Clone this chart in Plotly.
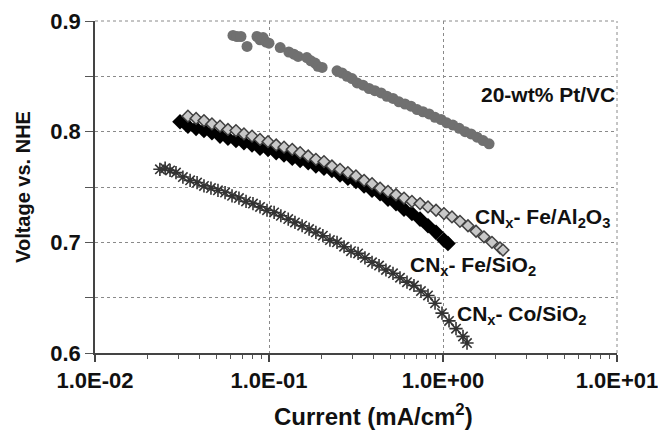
import numpy as np
import plotly.graph_objects as go

# Polarisation data: current density (mA/cm^2) vs. potential (V vs. NHE)
pt_current = [0.0621, 0.0655, 0.069, 0.0748, 0.0853, 0.0888, 0.0925, 0.0962, 0.100, 0.116,
              0.130, 0.139, 0.147, 0.165, 0.174, 0.184, 0.191, 0.202, 0.246, 0.263,
              0.281, 0.300, 0.321, 0.347, 0.376, 0.406, 0.441, 0.476, 0.516, 0.558,
              0.605, 0.655, 0.710, 0.767, 0.832, 0.900, 0.975, 1.05, 1.14, 1.24,
              1.34, 1.45, 1.57, 1.70, 1.84]
pt_voltage = [0.887, 0.886, 0.886, 0.877, 0.886, 0.883, 0.885, 0.881, 0.880, 0.876,
              0.872, 0.870, 0.868, 0.867, 0.864, 0.862, 0.859, 0.858, 0.855, 0.853,
              0.850, 0.848, 0.844, 0.842, 0.839, 0.837, 0.835, 0.832, 0.830, 0.827,
              0.825, 0.823, 0.820, 0.818, 0.816, 0.813, 0.811, 0.808, 0.806, 0.803,
              0.800, 0.798, 0.795, 0.792, 0.789]

fe_al_current = [0.0342, 0.0381, 0.0423, 0.0470, 0.0523, 0.0581, 0.0646, 0.0718, 0.0799, 0.0888,
                 0.0987, 0.110, 0.122, 0.136, 0.151, 0.168, 0.186, 0.207, 0.230, 0.256,
                 0.284, 0.316, 0.352, 0.391, 0.435, 0.483, 0.537, 0.597, 0.663, 0.738,
                 0.820, 0.912, 1.013, 1.126, 1.252, 1.392, 1.548, 1.720, 1.912, 2.126,
                 2.212]
fe_al_voltage = [0.814, 0.812, 0.810, 0.807, 0.805, 0.802, 0.801, 0.798, 0.796, 0.793,
                 0.791, 0.788, 0.786, 0.784, 0.781, 0.778, 0.775, 0.773, 0.769, 0.766,
                 0.763, 0.760, 0.756, 0.753, 0.749, 0.746, 0.743, 0.740, 0.737, 0.735,
                 0.732, 0.729, 0.726, 0.723, 0.719, 0.715, 0.710, 0.705, 0.700, 0.695,
                 0.693]

fe_si_current = [0.0308, 0.0342, 0.0381, 0.0423, 0.0470, 0.0523, 0.0581, 0.0646, 0.0718, 0.0799,
                 0.0888, 0.0987, 0.110, 0.122, 0.136, 0.151, 0.168, 0.186, 0.207, 0.230,
                 0.256, 0.284, 0.316, 0.352, 0.391, 0.435, 0.483, 0.537, 0.597, 0.663,
                 0.738, 0.820, 0.912, 1.013, 1.068]
fe_si_voltage = [0.809, 0.805, 0.803, 0.801, 0.799, 0.796, 0.794, 0.792, 0.790, 0.788,
                 0.785, 0.784, 0.781, 0.779, 0.776, 0.774, 0.772, 0.769, 0.767, 0.765,
                 0.761, 0.758, 0.755, 0.751, 0.747, 0.744, 0.739, 0.735, 0.730, 0.726,
                 0.721, 0.715, 0.709, 0.702, 0.699]

co_si_current = [0.0236, 0.0253, 0.0270, 0.0292, 0.0320, 0.0352, 0.0386, 0.0423, 0.0464, 0.0509,
                 0.0559, 0.0613, 0.0672, 0.0738, 0.0809, 0.0888, 0.0974, 0.107, 0.117, 0.129,
                 0.141, 0.155, 0.170, 0.186, 0.204, 0.224, 0.246, 0.270, 0.296, 0.325,
                 0.356, 0.391, 0.429, 0.470, 0.516, 0.566, 0.621, 0.681, 0.747, 0.820,
                 0.900, 0.987, 1.083, 1.188, 1.303, 1.374]
co_si_voltage = [0.766, 0.767, 0.765, 0.763, 0.759, 0.756, 0.754, 0.751, 0.749, 0.747,
                 0.745, 0.742, 0.740, 0.737, 0.735, 0.732, 0.729, 0.727, 0.724, 0.721,
                 0.718, 0.715, 0.712, 0.709, 0.706, 0.702, 0.700, 0.696, 0.692, 0.690,
                 0.686, 0.682, 0.679, 0.675, 0.672, 0.668, 0.664, 0.661, 0.656, 0.652,
                 0.645, 0.636, 0.629, 0.622, 0.615, 0.609]

x_tick_vals = [0.01, 0.1, 1, 10]
x_tick_text = ["1.0E-02", "1.0E-01", "1.0E+00", "1.0E+01"]
x_minor_vals = [a * b for b in (0.01, 0.1, 1) for a in range(2, 10)]
y_tick_vals = [0.6, 0.7, 0.8, 0.9]
y_tick_text = ["0.6", "0.7", "0.8", "0.9"]
y_minor_vals = [0.65, 0.75, 0.85]

FONT = "Liberation Sans, Arial, sans-serif"
GRID = "#8a8a8a"

fig = go.Figure()

fig.add_trace(go.Scatter(
    x=pt_current, y=pt_voltage, mode="markers", name="20-wt% Pt/VC",
    marker=dict(symbol="circle", size=11, color="#707070", line=dict(width=0)),
))
fig.add_trace(go.Scatter(
    x=co_si_current, y=co_si_voltage, mode="markers", name="CNx- Co/SiO2",
    marker=dict(symbol="asterisk-open", size=11, color="#333333",
                line=dict(width=1.6, color="#333333")),
))
fig.add_trace(go.Scatter(
    x=fe_si_current, y=fe_si_voltage, mode="markers", name="CNx- Fe/SiO2",
    marker=dict(symbol="diamond", size=12, color="#000000", line=dict(width=0)),
))
fig.add_trace(go.Scatter(
    x=fe_al_current, y=fe_al_voltage, mode="markers", name="CNx- Fe/Al2O3",
    marker=dict(symbol="diamond", size=9, color="#c8c8c8", line=dict(width=1.5, color="#404040")),
))

labels = [
    ("20-wt% Pt/VC", 1.0, 0.834, "right"),
    ("CN<sub>x</sub>- Fe/Al<sub>2</sub>O<sub>3</sub>", 0.972, 0.722, "right"),
    ("CN<sub>x</sub>- Fe/SiO<sub>2</sub>", -0.20, 0.679, "left"),
    ("CN<sub>x</sub>- Co/SiO<sub>2</sub>", 0.069, 0.634, "left"),
]
for text, lx, ly, anchor in labels:
    fig.add_annotation(x=lx, y=ly, xref="x", yref="y", text=text, showarrow=False,
                       xanchor=anchor, yanchor="middle",
                       font=dict(family=FONT, size=21, color="#111111", weight="bold"))

# x-axis title, set slightly right of the plot centre
fig.add_annotation(x=0.534, y=-0.135, xref="paper", yref="paper",
                   text="Current (mA/cm<sup>2</sup>)", showarrow=False,
                   xanchor="center", yanchor="top",
                   font=dict(family=FONT, size=24, color="#111111", weight="bold"))

fig.update_layout(
    width=658, height=432,
    margin=dict(l=95, r=41, t=21, b=79),
    paper_bgcolor="white", plot_bgcolor="white",
    showlegend=False,
    font=dict(family=FONT, size=20, color="#111111", weight="bold"),
    xaxis=dict(
        type="log", range=[-2, 1], automargin=False,
        tickvals=x_tick_vals, ticktext=x_tick_text,
        ticklabeloverflow="allow",
        ticks="outside", ticklen=7, tickwidth=1.5, tickcolor="#444444",
        minor=dict(ticks="outside", ticklen=4, tickwidth=1, tickcolor="#555555",
                   tickvals=x_minor_vals, showgrid=False),
        showgrid=True, gridcolor=GRID, gridwidth=1, griddash="dot",
        showline=True, linecolor="#444444", linewidth=1.5,
        zeroline=False,
        tickfont=dict(family=FONT, size=22, weight="bold"),
    ),
    yaxis=dict(
        range=[0.6, 0.9], automargin=False,
        tickvals=y_tick_vals, ticktext=y_tick_text,
        ticks="outside", ticklen=8, tickwidth=1, tickcolor="#555555",
        minor=dict(ticks="outside", ticklen=8, tickwidth=1, tickcolor="#555555",
                   tickvals=y_minor_vals, showgrid=True, gridcolor=GRID,
                   gridwidth=1, griddash="dot"),
        showgrid=True, gridcolor=GRID, gridwidth=1, griddash="dot",
        showline=True, linecolor="#444444", linewidth=1.5,
        zeroline=False,
        title=dict(text="Voltage vs. NHE", standoff=14,
                   font=dict(family=FONT, size=20, weight="bold")),
        tickfont=dict(family=FONT, size=22, weight="bold"),
    ),
)

# dotted frame along the top and right edges of the plot area
fig.add_shape(type="line", xref="paper", yref="paper", x0=0, x1=1, y0=1, y1=1,
              line=dict(color=GRID, width=1, dash="dot"))
fig.add_shape(type="line", xref="paper", yref="paper", x0=1, x1=1, y0=0, y1=1,
              line=dict(color=GRID, width=1, dash="dot"))

fig.write_html("out.html")
